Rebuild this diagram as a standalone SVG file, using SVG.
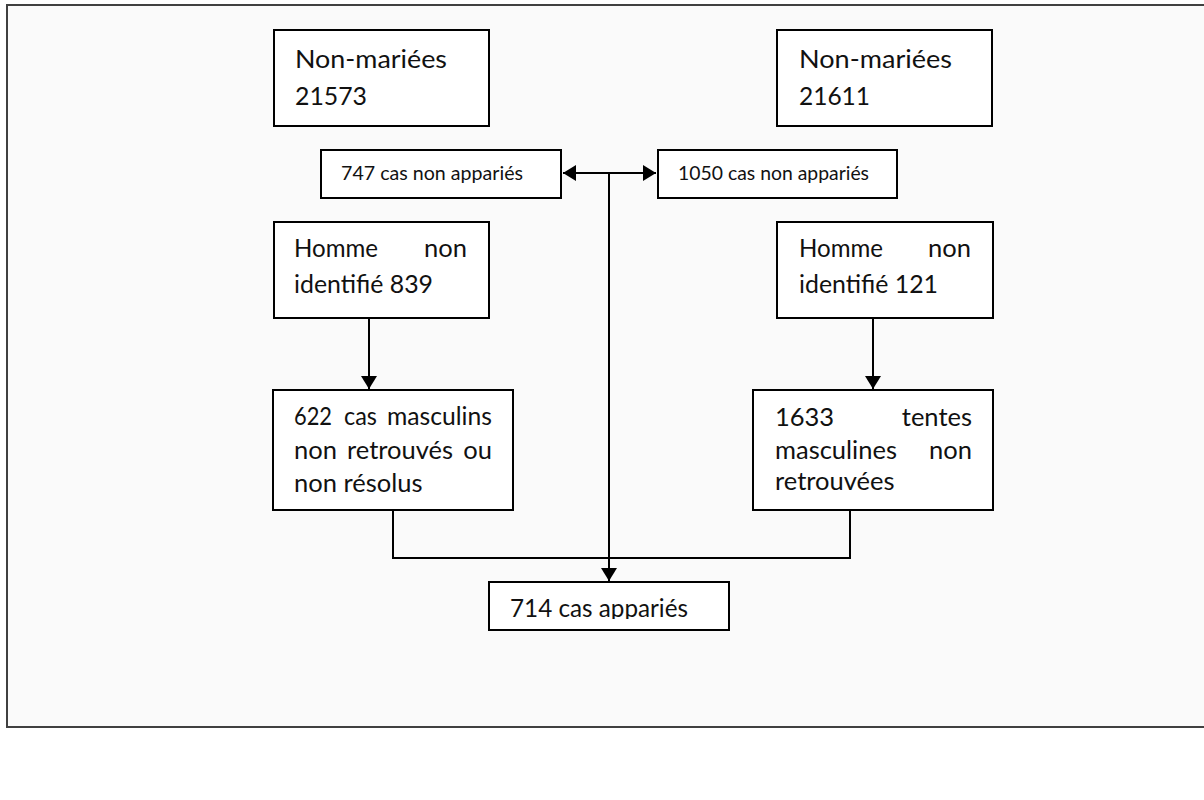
<svg xmlns="http://www.w3.org/2000/svg" width="1204" height="800" viewBox="0 0 1204 800">
<style>
.box{fill:#ffffff;stroke:#000;stroke-width:2}
.t{font-family:Lato,"Open Sans","Liberation Sans",sans-serif;font-size:25.5px;fill:#111}
.s{font-family:Lato,"Open Sans","Liberation Sans",sans-serif;font-size:19px;fill:#111}
.c{fill:none;stroke:#000;stroke-width:2}
</style>
<defs>
<marker id="ah" markerUnits="userSpaceOnUse" markerWidth="14" markerHeight="16" refX="13" refY="8" orient="auto-start-reverse">
<path d="M0,0 L13,8 L0,16 z" fill="#000"/>
</marker>
<clipPath id="clip714"><rect x="489" y="582" width="240" height="37"/></clipPath>
</defs>
<rect width="1204" height="800" fill="#ffffff"/>
<rect x="7" y="5" width="1210" height="722" fill="#fafafa" stroke="#404040" stroke-width="2"/>

<g id="connectors">
<line class="c" x1="563" y1="173" x2="656" y2="173" marker-start="url(#ah)" marker-end="url(#ah)"/>
<line class="c" x1="609" y1="173" x2="609" y2="581" marker-end="url(#ah)"/>
<line class="c" x1="369" y1="318" x2="369" y2="389" marker-end="url(#ah)"/>
<line class="c" x1="873" y1="318" x2="873" y2="389" marker-end="url(#ah)"/>
<polyline class="c" points="393,510 393,558 850,558 850,510"/>
</g>

<g id="n_nonmariees_1">
<rect class="box" x="274" y="30" width="215" height="96"/>
<text class="t" x="295" y="68" textLength="152" lengthAdjust="spacingAndGlyphs">Non-mariées</text>
<text class="t" x="295" y="105" textLength="72" lengthAdjust="spacingAndGlyphs">21573</text>
</g>

<g id="n_nonmariees_2">
<rect class="box" x="777" y="30" width="215" height="96"/>
<text class="t" x="799" y="68" textLength="153" lengthAdjust="spacingAndGlyphs">Non-mariées</text>
<text class="t" x="799" y="105" textLength="71" lengthAdjust="spacingAndGlyphs">21611</text>
</g>

<g id="n_747">
<rect class="box" x="321" y="150" width="240" height="48"/>
<text class="s" x="341" y="180" textLength="182" lengthAdjust="spacingAndGlyphs">747 cas non appariés</text>
</g>

<g id="n_1050">
<rect class="box" x="658" y="150" width="239" height="48"/>
<text class="s" x="678" y="180" textLength="191" lengthAdjust="spacingAndGlyphs">1050 cas non appariés</text>
</g>

<g id="n_homme_1">
<rect class="box" x="274" y="222" width="215" height="96"/>
<text class="t" x="294" y="257" textLength="84" lengthAdjust="spacingAndGlyphs">Homme</text>
<text class="t" x="467" y="257" text-anchor="end">non</text>
<text class="t" x="294" y="293" textLength="139" lengthAdjust="spacingAndGlyphs">identifié 839</text>
</g>

<g id="n_homme_2">
<rect class="box" x="777" y="222" width="216" height="96"/>
<text class="t" x="799" y="257" textLength="84" lengthAdjust="spacingAndGlyphs">Homme</text>
<text class="t" x="971" y="257" text-anchor="end">non</text>
<text class="t" x="799" y="293" textLength="139" lengthAdjust="spacingAndGlyphs">identifié 121</text>
</g>

<g id="n_622">
<rect class="box" x="273" y="390" width="240" height="120"/>
<text class="t" x="294" y="425" textLength="38" lengthAdjust="spacingAndGlyphs">622</text>
<text class="t" x="344" y="425" textLength="33" lengthAdjust="spacingAndGlyphs">cas</text>
<text class="t" x="387" y="425" textLength="105" lengthAdjust="spacingAndGlyphs">masculins</text>
<text class="t" x="294" y="459">non</text>
<text class="t" x="347" y="459">retrouvés</text>
<text class="t" x="492" y="459" text-anchor="end">ou</text>
<text class="t" x="294" y="492">non résolus</text>
</g>

<g id="n_1633">
<rect class="box" x="753" y="390" width="240" height="120"/>
<text class="t" x="775" y="426">1633</text>
<text class="t" x="972" y="426" text-anchor="end">tentes</text>
<text class="t" x="775" y="459">masculines</text>
<text class="t" x="972" y="459" text-anchor="end">non</text>
<text class="t" x="775" y="490">retrouvées</text>
</g>

<g id="n_714">
<rect class="box" x="489" y="582" width="240" height="48"/>
<text class="t" x="510" y="617" textLength="178" lengthAdjust="spacingAndGlyphs" clip-path="url(#clip714)">714 cas appariés</text>
</g>
</svg>
